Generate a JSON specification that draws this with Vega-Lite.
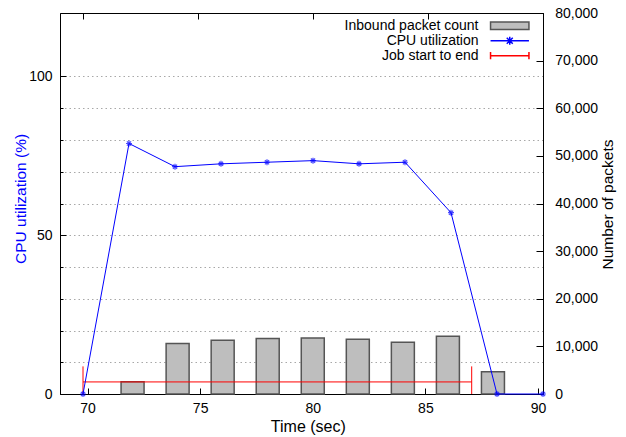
{
  "$schema": "https://vega.github.io/schema/vega-lite/v6.json",
  "width": 483,
  "height": 381,
  "autosize": {"type": "none"},
  "padding": {"left": 60, "top": 13, "right": 83, "bottom": 43},
  "config": {
    "font": "Liberation Sans",
    "view": {"stroke": "#000000", "strokeWidth": 1},
    "axis": {
      "domainColor": "#000000",
      "tickColor": "#000000",
      "labelColor": "#000000",
      "labelFontSize": 14,
      "labelFont": "Liberation Sans",
      "titleFont": "Liberation Sans",
      "titleFontSize": 15.5,
      "titleFontWeight": "normal",
      "titleColor": "#000000"
    }
  },
  "datasets": {
    "packets": [
      {"t": 72, "packets": 2550},
      {"t": 74, "packets": 10600},
      {"t": 76, "packets": 11300},
      {"t": 78, "packets": 11650},
      {"t": 80, "packets": 11750},
      {"t": 82, "packets": 11500},
      {"t": 84, "packets": 10850},
      {"t": 86, "packets": 12100},
      {"t": 88, "packets": 4650}
    ],
    "cpu": [
      {"t": 70, "cpu": 0},
      {"t": 72, "cpu": 78.9},
      {"t": 74, "cpu": 71.6},
      {"t": 76, "cpu": 72.5},
      {"t": 78, "cpu": 73.0},
      {"t": 80, "cpu": 73.5},
      {"t": 82, "cpu": 72.5},
      {"t": 84, "cpu": 73.0},
      {"t": 86, "cpu": 57.1},
      {"t": 88, "cpu": 0},
      {"t": 90, "cpu": 0}
    ],
    "job": [
      {"start": 70, "end": 86.9, "level": 3.8, "low": 0, "high": 8.7}
    ],
    "series": [
      {"series": "Inbound packet count"},
      {"series": "CPU utilization"},
      {"series": "Job start to end"}
    ]
  },
  "layer": [
    {
      "data": {"name": "packets"},
      "mark": {"type": "bar", "size": 23, "fill": "#bebebe", "stroke": "#555555", "strokeWidth": 1.5},
      "encoding": {
        "x": {
          "field": "t", "type": "quantitative",
          "scale": {"domain": [69, 90], "nice": false, "zero": false},
          "axis": {
            "orient": "bottom", "values": [70, 75, 80, 85, 90], "tickSize": -6,
            "labelPadding": 13.6, "grid": false, "title": "Time (sec)",
            "titleFontSize": 16, "titleX": 247.8, "titleY": 37, "titleBaseline": "alphabetic", "titleAlign": "center"
          }
        },
        "y": {
          "field": "packets", "type": "quantitative",
          "scale": {"domain": [0, 80000], "nice": false},
          "axis": {
            "orient": "right", "values": [0, 10000, 20000, 30000, 40000, 50000, 60000, 70000, 80000],
            "labelExpr": "format(datum.value, ',')", "tickSize": -7, "labelPadding": 18.7, "grid": false,
            "title": "Number of packets", "titleAngle": 270, "titleX": 69.8, "titleY": 191,
            "titleBaseline": "alphabetic", "titleAlign": "center"
          }
        }
      }
    },
    {
      "data": {"name": "job"},
      "mark": {"type": "rule", "color": "#ff0000", "strokeWidth": 1},
      "encoding": {
        "x": {"field": "start", "type": "quantitative", "scale": {"domain": [69, 90], "nice": false, "zero": false}, "axis": null},
        "x2": {"field": "end"},
        "y": {"field": "level", "type": "quantitative", "scale": {"domain": [0, 120], "nice": false}, "axis": null}
      }
    },
    {
      "data": {"name": "job"},
      "mark": {"type": "rule", "color": "#ff0000", "strokeWidth": 1},
      "encoding": {
        "x": {"field": "start", "type": "quantitative", "scale": {"domain": [69, 90], "nice": false, "zero": false}, "axis": null},
        "y": {"field": "low", "type": "quantitative", "scale": {"domain": [0, 120], "nice": false}, "axis": null},
        "y2": {"field": "high"}
      }
    },
    {
      "data": {"name": "job"},
      "mark": {"type": "rule", "color": "#ff0000", "strokeWidth": 1},
      "encoding": {
        "x": {"field": "end", "type": "quantitative", "scale": {"domain": [69, 90], "nice": false, "zero": false}, "axis": null},
        "y": {"field": "low", "type": "quantitative", "scale": {"domain": [0, 120], "nice": false}, "axis": null},
        "y2": {"field": "high"}
      }
    },
    {
      "data": {"name": "cpu"},
      "mark": {"type": "line", "color": "#0000ff", "strokeWidth": 1},
      "encoding": {
        "x": {
          "field": "t", "type": "quantitative",
          "scale": {"domain": [69, 90], "nice": false, "zero": false},
          "axis": {"orient": "top", "values": [70, 75, 80, 85, 90], "tickSize": -6, "labels": false, "domain": false, "grid": false, "title": null}
        },
        "y": {
          "field": "cpu", "type": "quantitative",
          "scale": {"domain": [0, 120], "nice": false},
          "axis": {
            "orient": "left", "values": [0, 10, 20, 30, 40, 50, 60, 70, 80, 90, 100],
            "labelExpr": "datum.value % 50 === 0 ? datum.label : ''",
            "tickSize": {"condition": {"test": "datum.value % 50 === 0", "value": -6}, "value": -3},
            "labelPadding": 14,
            "grid": true, "gridColor": "#a8a8a8", "gridDash": [1.5, 3], "gridWidth": 1,
            "title": "CPU utilization (%)", "titleColor": "#0000ff", "titleAngle": 270,
            "titleX": -35, "titleY": 185.4, "titleBaseline": "alphabetic", "titleAlign": "center"
          }
        }
      }
    },
    {
      "data": {"name": "cpu"},
      "mark": {"type": "point", "filled": false, "color": "#0000ff", "strokeWidth": 1.2, "size": 36,
        "shape": "M-1,0L1,0M0,-1L0,1M-0.7,-0.7L0.7,0.7M-0.7,0.7L0.7,-0.7"},
      "encoding": {
        "x": {"field": "t", "type": "quantitative", "scale": {"domain": [69, 90], "nice": false, "zero": false}, "axis": null},
        "y": {"field": "cpu", "type": "quantitative", "scale": {"domain": [0, 120], "nice": false}, "axis": null}
      }
    },
    {
      "data": {"name": "series"},
      "mark": {"type": "point", "opacity": 0},
      "encoding": {
        "shape": {
          "field": "series", "type": "nominal",
          "scale": {
            "domain": ["Inbound packet count", "CPU utilization", "Job start to end"],
            "range": [
              "M-4.8,-0.95L4.8,-0.95L4.8,0.95L-4.8,0.95Z",
              "M-4.8,0L4.8,0M-1,0L1,0M0,-1L0,1M-0.75,-0.75L0.75,0.75M-0.75,0.75L0.75,-0.75",
              "M-4.8,0L4.8,0M-4.8,-0.9L-4.8,0.9M4.8,-0.9L4.8,0.9"
            ]
          },
          "legend": {
            "title": null,
            "orient": "none",
            "legendX": 442.75,
            "legendY": 5.7,
            "padding": 0,
            "rowPadding": 1,
            "symbolSize": 64,
            "symbolStrokeWidth": 1.5,
            "labelAlign": "right",
            "labelOffset": -38.25,
            "labelFontSize": 14,
            "labelFont": "Liberation Sans",
            "labelColor": "#000000",
            "labelLimit": 300,
            "encode": {"symbols": {"update": {"opacity": {"value": 1}}}}
          }
        },
        "stroke": {
          "field": "series", "type": "nominal",
          "scale": {
            "domain": ["Inbound packet count", "CPU utilization", "Job start to end"],
            "range": ["#555555", "#0000ff", "#ff0000"]
          },
          "legend": {
            "title": null,
            "orient": "none",
            "legendX": 442.75,
            "legendY": 5.7,
            "padding": 0,
            "rowPadding": 1,
            "symbolSize": 64,
            "symbolStrokeWidth": 1.5,
            "labelAlign": "right",
            "labelOffset": -38.25,
            "labelFontSize": 14,
            "labelFont": "Liberation Sans",
            "labelColor": "#000000",
            "labelLimit": 300,
            "encode": {"symbols": {"update": {"opacity": {"value": 1}}}}
          }
        },
        "fill": {
          "field": "series", "type": "nominal",
          "scale": {
            "domain": ["Inbound packet count", "CPU utilization", "Job start to end"],
            "range": ["#bebebe", "transparent", "transparent"]
          },
          "legend": {
            "title": null,
            "orient": "none",
            "legendX": 442.75,
            "legendY": 5.7,
            "padding": 0,
            "rowPadding": 1,
            "symbolSize": 64,
            "symbolStrokeWidth": 1.5,
            "labelAlign": "right",
            "labelOffset": -38.25,
            "labelFontSize": 14,
            "labelFont": "Liberation Sans",
            "labelColor": "#000000",
            "labelLimit": 300,
            "encode": {"symbols": {"update": {"opacity": {"value": 1}}}}
          }
        }
      }
    }
  ],
  "resolve": {"scale": {"x": "independent", "y": "independent"}}
}
